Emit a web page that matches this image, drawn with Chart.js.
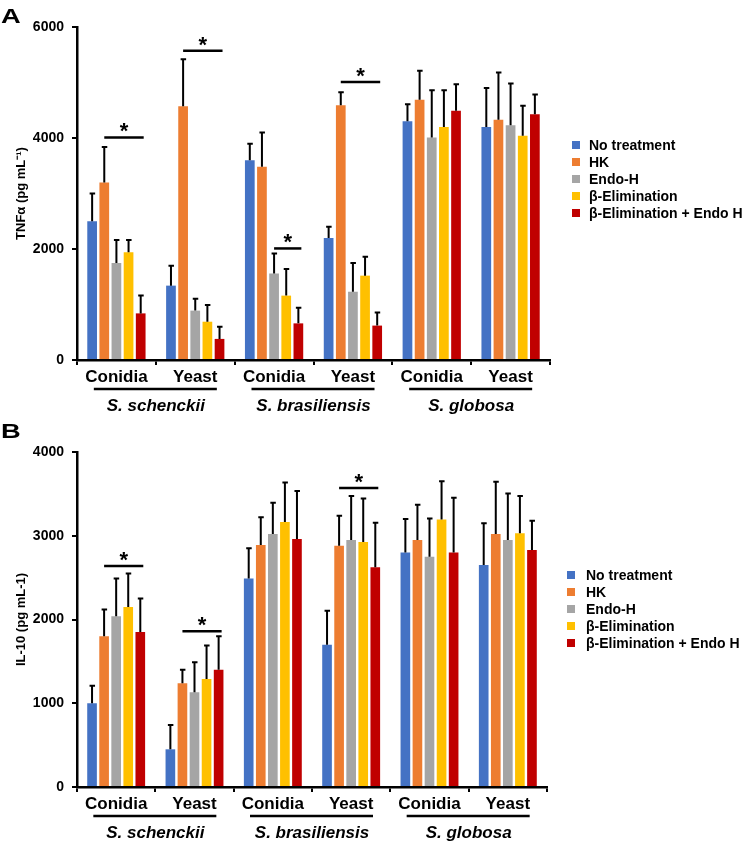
<!DOCTYPE html>
<html>
<head>
<meta charset="utf-8">
<script src="https://cdn.jsdelivr.net/npm/chart.js@4.4.1/dist/chart.umd.min.js"></script>
<style>
  html, body { margin: 0; padding: 0; background: #fff; }
  #wrap { position: relative; width: 750px; height: 844px; }
  canvas { position: absolute; left: 0; }
  #chartA { top: 0; }
  #chartB { top: 420px; }
</style>
</head>
<body>
<div id="wrap">
  <canvas id="chartA" width="750" height="420"></canvas>
  <canvas id="chartB" width="750" height="424"></canvas>
</div>
<script>
// categories and series
const categories = ['Conidia', 'Yeast', 'Conidia', 'Yeast', 'Conidia', 'Yeast'];
const species = ['S. schenckii', 'S. brasiliensis', 'S. globosa'];
const seriesNames = ['No treatment', 'HK', 'Endo-H', 'β-Elimination', 'β-Elimination + Endo H'];
const seriesColors = ['#4472C4', '#ED7D31', '#A5A5A5', '#FFC000', '#C00000'];

// Panel A - TNFα (pg/mL)
const tnfNoTreatment = [2500, 1340, 3600, 2200, 4300, 4200];
const tnfHK = [3200, 4570, 3480, 4590, 4690, 4330];
const tnfEndoH = [1750, 890, 1560, 1230, 4010, 4230];
const tnfBeta = [1940, 690, 1160, 1520, 4200, 4040];
const tnfBetaEndoH = [840, 380, 660, 620, 4490, 4430];

const tnfErrNoTreatment = [500, 360, 295, 200, 310, 700];
const tnfErrHK = [640, 850, 620, 235, 520, 850];
const tnfErrEndoH = [410, 215, 360, 520, 850, 750];
const tnfErrBeta = [220, 300, 480, 340, 660, 540];
const tnfErrBetaEndoH = [320, 220, 280, 235, 480, 355];

// [category, first series, last series, height]
const tnfSig = [[0, 1, 4, 4010], [1, 1, 4, 5570], [2, 2, 4, 2010], [3, 1, 4, 5010]];
const tnfTicks = [0, 2000, 4000, 6000];

// Panel B - IL-10 (pg/mL)
const il10NoTreatment = [1000, 450, 2490, 1700, 2800, 2650];
const il10HK = [1800, 1240, 2890, 2880, 2950, 3020];
const il10EndoH = [2040, 1130, 3020, 2950, 2750, 2950];
const il10Beta = [2150, 1290, 3165, 2925, 3195, 3030];
const il10BetaEndoH = [1850, 1400, 2960, 2625, 2800, 2830];

const il10ErrNoTreatment = [210, 290, 360, 405, 400, 500];
const il10ErrHK = [320, 160, 330, 360, 420, 625];
const il10ErrEndoH = [450, 360, 375, 525, 455, 555];
const il10ErrBeta = [400, 400, 470, 520, 455, 445];
const il10ErrBetaEndoH = [400, 400, 575, 530, 655, 350];

const il10Sig = [[0, 1, 4, 2640], [1, 1, 4, 1860], [3, 1, 4, 3570]];
const il10Ticks = [0, 1000, 2000, 3000, 4000];

const FONT = 'Arial, "Liberation Sans", sans-serif';

// error bars, significance marks, species labels, legend and panel letter
const extrasPlugin = {
  id: 'extras',
  afterDatasetsDraw(chart, args, opts) {
    const ctx = chart.ctx;
    const xs = chart.scales.x, ys = chart.scales.y;
    const area = chart.chartArea;
    ctx.save();
    ctx.strokeStyle = '#000';
    ctx.lineWidth = 2;

    // error bars (upper only)
    chart.data.datasets.forEach((ds, i) => {
      const meta = chart.getDatasetMeta(i);
      meta.data.forEach((bar, j) => {
        const top = ys.getPixelForValue(ds.data[j] + opts.errors[i][j]);
        ctx.beginPath();
        ctx.moveTo(bar.x, bar.y);
        ctx.lineTo(bar.x, top);
        ctx.moveTo(bar.x - 2.5, top);
        ctx.lineTo(bar.x + 3, top);
        ctx.stroke();
      });
    });

    // significance lines
    ctx.fillStyle = '#000';
    ctx.textAlign = 'center';
    ctx.textBaseline = 'alphabetic';
    ctx.font = 'bold 22px ' + FONT;
    opts.sig.forEach(([cat, s1, s2, val]) => {
      const b1 = chart.getDatasetMeta(s1).data[cat];
      const b2 = chart.getDatasetMeta(s2).data[cat];
      const x1 = b1.x, x2 = b2.x + 3;
      const yy = ys.getPixelForValue(val);
      ctx.lineWidth = 2.5;
      ctx.beginPath();
      ctx.moveTo(x1, yy);
      ctx.lineTo(x2, yy);
      ctx.stroke();
      ctx.fillText('*', (x1 + x2) / 2, yy + 1);
    });

    // species labels under the axis
    ctx.font = 'italic bold 17px ' + FONT;
    ctx.textBaseline = 'middle';
    species.forEach((name, k) => {
      const cx = (xs.getPixelForValue(2 * k) + xs.getPixelForValue(2 * k + 1)) / 2;
      ctx.lineWidth = 2.5;
      ctx.beginPath();
      ctx.moveTo(cx - 62, area.bottom + 29);
      ctx.lineTo(cx + 61, area.bottom + 29);
      ctx.stroke();
      ctx.fillText(name, cx, area.bottom + 46);
    });

    // legend
    ctx.font = 'bold 14px ' + FONT;
    ctx.textAlign = 'left';
    seriesNames.forEach((name, i) => {
      const yy = opts.legendTop + i * 17;
      ctx.fillStyle = seriesColors[i];
      ctx.fillRect(area.right + opts.legendBox, yy - 4, 8, 8);
      ctx.fillStyle = '#000';
      ctx.fillText(name, area.right + 39, yy + 1);
    });

    // panel letter
    ctx.save();
    ctx.translate(1, opts.letterY);
    ctx.scale(1.3, 1);
    ctx.font = 'bold 21px ' + FONT;
    ctx.textBaseline = 'alphabetic';
    ctx.fillText(opts.letter, 0, 0);
    ctx.restore();

    ctx.restore();
  }
};

function makeDatasets(values) {
  return values.map((data, i) => ({
    label: seriesNames[i],
    data: data,
    backgroundColor: seriesColors[i],
    borderWidth: 0,
    categoryPercentage: 0.77,
    barPercentage: 0.8
  }));
}

function makeChart(id, cfg) {
  return new Chart(document.getElementById(id), {
    type: 'bar',
    data: { labels: categories, datasets: makeDatasets(cfg.values) },
    plugins: [extrasPlugin],
    options: {
      responsive: false,
      animation: false,
      layout: { padding: { top: cfg.top, right: cfg.right, left: 0, bottom: 0 } },
      plugins: {
        legend: { display: false },
        tooltip: { enabled: false },
        extras: {
          errors: cfg.errors,
          sig: cfg.sig,
          legendTop: cfg.legendTop,
          legendBox: cfg.legendBox,
          letter: cfg.letter,
          letterY: cfg.letterY
        }
      },
      scales: {
        x: {
          afterFit: (s) => { s.height = cfg.xHeight; },
          border: { display: true, color: '#000', width: 2.5 },
          grid: { display: true, drawOnChartArea: false, drawTicks: true, tickLength: 5, color: '#000', lineWidth: 2 },
          ticks: { color: '#000', font: { family: FONT, size: 17, weight: 'bold' }, padding: 2, maxRotation: 0 }
        },
        y: {
          min: 0,
          max: cfg.ticks[cfg.ticks.length - 1],
          afterFit: (s) => { s.width = 77; },
          afterBuildTicks: (s) => { s.ticks = cfg.ticks.map(v => ({ value: v })); },
          border: { display: true, color: '#000', width: 2.5 },
          grid: { display: true, drawOnChartArea: false, drawTicks: true, tickLength: 5, color: '#000', lineWidth: 2 },
          ticks: {
            color: '#000',
            font: { family: FONT, size: 14, weight: 'bold' },
            padding: 8,
            callback: (v) => String(v)
          },
          title: {
            display: true,
            text: cfg.yTitle,
            color: '#000',
            font: { family: FONT, size: 13, weight: 'bold' },
            padding: { top: 14, bottom: 0 }
          }
        }
      }
    }
  });
}

makeChart('chartA', {
  values: [tnfNoTreatment, tnfHK, tnfEndoH, tnfBeta, tnfBetaEndoH],
  errors: [tnfErrNoTreatment, tnfErrHK, tnfErrEndoH, tnfErrBeta, tnfErrBetaEndoH],
  sig: tnfSig,
  ticks: tnfTicks,
  yTitle: 'TNFα (pg mL⁻¹)',
  top: 27, right: 200, xHeight: 60,
  legendTop: 145, legendBox: 22,
  letter: 'A', letterY: 23
});

makeChart('chartB', {
  values: [il10NoTreatment, il10HK, il10EndoH, il10Beta, il10BetaEndoH],
  errors: [il10ErrNoTreatment, il10ErrHK, il10ErrEndoH, il10ErrBeta, il10ErrBetaEndoH],
  sig: il10Sig,
  ticks: il10Ticks,
  yTitle: 'IL-10 (pg mL-1)',
  top: 32, right: 203, xHeight: 57,
  legendTop: 155, legendBox: 20,
  letter: 'B', letterY: 18
});
</script>
</body>
</html>
